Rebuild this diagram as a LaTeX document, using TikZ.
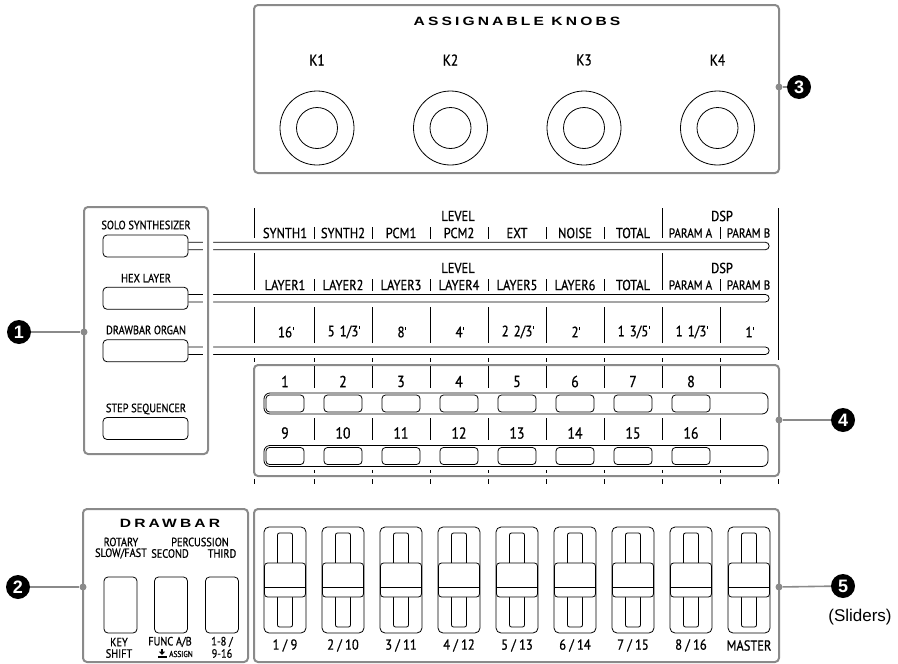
\documentclass[tikz,border=0pt]{standalone}
\usepackage{fontspec}
\setmainfont{Liberation Sans}
\newfontfamily\din[FakeStretch=0.86,FakeBold=0.8]{PT Sans}
\newfontfamily\wide[FakeStretch=1.3,LetterSpace=26]{Liberation Sans}
\definecolor{pgray}{HTML}{8A8A8A}
\newcommand\ftm{\hspace{0.8pt}\rule[7.2pt]{1.1pt}{3pt}}
\begin{document}
\begin{tikzpicture}[x=1pt,y=-1pt,
  panel/.style={draw=pgray,line width=2pt,rounded corners=4pt,inner sep=0pt},
  halo/.style={draw=white,line width=10pt,rounded corners=4pt,inner sep=0pt},
  thin/.style={line width=0.8pt},
  btn/.style={draw,line width=0.8pt,rounded corners=4pt,inner sep=0pt,fill=white},
  lbl/.style={inner sep=0pt,font=\din\fontsize{12}{12}\selectfont},
  rlbl/.style={inner sep=0pt,font=\din\fontsize{14.5}{14.5}\selectfont},
  plbl/.style={inner sep=0pt,font=\din\fontsize{13}{13}\selectfont},
  nlbl/.style={inner sep=0pt,font=\din\fontsize{16}{16}\selectfont},
  slbl/.style={inner sep=0pt,font=\din\fontsize{12}{12}\selectfont},
  ttl/.style={inner sep=0pt,font=\wide\bfseries\fontsize{12}{12}\selectfont},
  dotn/.style={circle,fill=pgray,inner sep=0pt,minimum size=7pt},
  call/.style={circle,fill=black,text=white,inner sep=0pt,minimum size=24pt,font=\bfseries\fontsize{18}{18}\selectfont},
  leader/.style={draw=pgray,line width=1.6pt},
]
\useasboundingbox (0,0) rectangle (898,664);

% ---------- knobs ----------
\node[panel,minimum width=525pt,minimum height=168pt] (knobs) at (516.5,89) {};
\node[ttl] (ktitle) at (517,21) {ASSIGNABLE KNOBS};
\foreach \i in {1,...,4}{
  \pgfmathsetmacro\kx{317+133.5*(\i-1)}
  \node[lbl,font=\din\fontsize{15.5}{15.5}\selectfont] (klab\i) at (\kx,60) {K\i};
  \node[circle,draw,thin,minimum size=74pt,inner sep=0pt] (kout\i) at (\kx,128) {};
  \node[circle,draw,thin,minimum size=41pt,inner sep=0pt] (kin\i) at (\kx,128) {};
}
\node[dotn] (d3) at (779,87) {};
\node[call] (c3) at (799,87) {3};
\draw[leader] (d3) -- (c3);

% ---------- left mode panel ----------
\node[btn,minimum width=85pt,minimum height=22pt] (solo) at (145.5,246) {};
\node[btn,minimum width=85pt,minimum height=22pt] (hex) at (145.5,298.25) {};
\node[btn,minimum width=85pt,minimum height=22pt] (organ) at (145.5,350.75) {};
\node[btn,minimum width=85pt,minimum height=22pt] (stepseq) at (145.5,428.5) {};
\node[lbl] (tsolo) at (146,225) {SOLO SYNTHESIZER};
\node[lbl] (thex) at (146,278) {HEX LAYER};
\node[lbl] (torgan) at (146,330) {DRAWBAR ORGAN};
\node[lbl] (tstep) at (146,409) {STEP SEQUENCER};
\foreach \b in {solo,hex,organ}{
  \draw[thin] ([yshift=3.75pt]\b.east) -- ++(577,0) arc[start angle=90,end angle=-90,radius=3.75pt] -- ([yshift=-3.75pt]\b.east);
}
\node[halo,minimum width=124pt,minimum height=247pt] (lhalo) at (146,330.5) {};
\node[panel,minimum width=124pt,minimum height=247pt] (modes) at (146,330.5) {};
\node[dotn] (d1) at (84,332) {};
\node[call] (c1) at (19,332) {1};
\draw[leader] (c1) -- (d1);

% ---------- rows ----------
% row 1
\draw[thin] (254,208) -- (254,238);
\draw[thin] (662,208) -- (662,238);
\draw[thin] (778,208) -- (778,360);
\foreach \x in {314,372,430,488,546,604,720}{\draw[thin] (\x,227) -- (\x,239);}
\node[rlbl] (lev1) at (458,216) {LEVEL};
\node[rlbl] (dsp1) at (722,216) {DSP};
\foreach \t [count=\i] in {SYNTH1,SYNTH2,PCM1,PCM2,EXT,NOISE,TOTAL}{
  \node[rlbl] (ra\i) at ({285+58*(\i-1)},233) {\t};
}
\node[plbl] (ra8) at (690.5,233) {PARAM A};
\node[plbl] (ra9) at (748.5,233) {PARAM B};
% row 2
\draw[thin] (254,253) -- (254,290);
\draw[thin] (662,253) -- (662,290);
\foreach \x in {314,372,430,488,546,604,720}{\draw[thin] (\x,279) -- (\x,291);}
\node[rlbl] (lev2) at (458,268) {LEVEL};
\node[rlbl] (dsp2) at (722,268) {DSP};
\foreach \t [count=\i] in {LAYER1,LAYER2,LAYER3,LAYER4,LAYER5,LAYER6,TOTAL}{
  \node[rlbl] (rb\i) at ({285+58*(\i-1)},285) {\t};
}
\node[plbl] (rb8) at (690.5,285) {PARAM A};
\node[plbl] (rb9) at (748.5,285) {PARAM B};
% row 3
\foreach \x in {254,314,372,430,488,546,604,662,720}{\draw[thin] (\x,307) -- (\x,343);}
\foreach \t [count=\i] in {16\ftm,5\hspace{5pt}1/3\ftm,8\ftm,4\ftm,2\hspace{5pt}2/3\ftm,2\ftm,1\hspace{5pt}3/5\ftm,1\hspace{5pt}1/3\ftm,1\ftm}{
  \node[nlbl,font=\din\fontsize{15}{15}\selectfont] (rc\i) at ({286+58*(\i-1)},332) {\t};
}
\foreach \x in {254,314,372,430,488,546,604,662,720}{\draw[thin] (\x,358) -- (\x,362);}

% ---------- step panel ----------
\node[panel,minimum width=525pt,minimum height=111pt] (steps) at (516.5,420.5) {};
\foreach \x in {314,372,430,488,546,604,662,720}{
  \draw[thin] (\x,366) -- (\x,388);
  \draw[thin] (\x,418) -- (\x,440);
  \draw[thin] (\x,470) -- (\x,473);
}
\foreach \x in {254,314,372,430,488,546,604,662,720,778}{\draw[thin] (\x,479) -- (\x,484);}
\node[draw,thin,rounded corners=6pt,minimum width=504pt,minimum height=21pt,inner sep=0pt] (bar1) at (516,403.5) {};
\node[draw,thin,rounded corners=6pt,minimum width=504pt,minimum height=21pt,inner sep=0pt] (bar2) at (516,456) {};
\foreach \i in {1,...,8}{
  \node[nlbl] (n\i) at ({285+58*(\i-1)},381.5) {\i};
  \node[btn,rounded corners=3.5pt,minimum width=38pt,minimum height=17pt] (sa\i) at ({285+58*(\i-1)},403.5) {};
}
\foreach \i in {9,...,16}{
  \node[nlbl] (n\i) at ({285+58*(\i-9)},433) {\i};
  \node[btn,rounded corners=3.5pt,minimum width=38pt,minimum height=17pt] (sb\i) at ({285+58*(\i-9)},456) {};
}
\node[dotn] (d4) at (779,420) {};
\node[call] (c4) at (843,420) {4};
\draw[leader] (d4) -- (c4);

% ---------- drawbar panel ----------
\node[panel,minimum width=165pt,minimum height=153pt] (drawbar) at (165.5,585.5) {};
\node[ttl] (dtitle) at (170,523) {DRAWBAR};
\node[slbl] (t1a) at (121,542) {ROTARY};
\node[slbl] (t1b) at (121,553.5) {SLOW/FAST};
\node[slbl] (t2a) at (200,542) {PERCUSSION};
\node[slbl] (t2b) at (170,553.5) {SECOND};
\node[slbl] (t3b) at (222,553.5) {THIRD};
\node[btn,minimum width=33pt,minimum height=56pt] (db1) at (120.5,605) {};
\node[btn,minimum width=33pt,minimum height=56pt] (db2) at (171,605) {};
\node[btn,minimum width=33pt,minimum height=56pt] (db3) at (222,605) {};
\node[slbl] (b1a) at (119,642) {KEY};
\node[slbl] (b1b) at (119,653.5) {SHIFT};
\node[slbl] (b2a) at (170,642) {FUNC A/B};
\node[inner sep=0pt,font=\din\fontsize{8.5}{8.5}\selectfont] (b2b) at (181,654) {ASSIGN};
\fill (157.5,655.5) rectangle (166.5,658.2);
\fill (160.8,648.5) rectangle (163.2,652);
\fill (158.8,651.5) -- (165.2,651.5) -- (162,655) -- cycle;
\node[slbl] (b3a) at (222,642) {1-8 /};
\node[slbl] (b3b) at (222,653.5) {9-16};
\node[dotn] (d2) at (83,587) {};
\node[call] (c2) at (18,587) {2};
\draw[leader] (c2) -- (d2);

% ---------- sliders ----------
\node[panel,minimum width=525pt,minimum height=153pt] (sliders) at (516.5,585.5) {};
\foreach \t [count=\i] in {1 / 9,2 / 10,3 / 11,4 / 12,5 / 13,6 / 14,7 / 15,8 / 16,MASTER}{
  \pgfmathsetmacro\cx{285+58*(\i-1)}
  \node[draw,thin,rounded corners=5pt,minimum width=42pt,minimum height=106pt,inner sep=0pt] (sl\i) at (\cx,580) {};
  \node[draw,thin,rounded corners=2pt,minimum width=15pt,minimum height=94pt,inner sep=0pt] (slot\i) at (\cx,580) {};
  \node[btn,rounded corners=3pt,minimum width=41pt,minimum height=34pt] (knob\i) at (\cx,580) {};
  \draw[thin] ([yshift=10pt]knob\i.south west) -- ([yshift=10pt]knob\i.south east);
  \node[rlbl] (sll\i) at (\cx,645.5) {\t};
}
\node[dotn] (d5) at (779,587) {};
\node[call] (c5) at (843,586) {5};
\draw[leader] (d5) -- (c5);
\node[inner sep=0pt,font=\fontsize{17}{17}\selectfont] (slcap) at (860,617) {(Sliders)};
\end{tikzpicture}
\end{document}
